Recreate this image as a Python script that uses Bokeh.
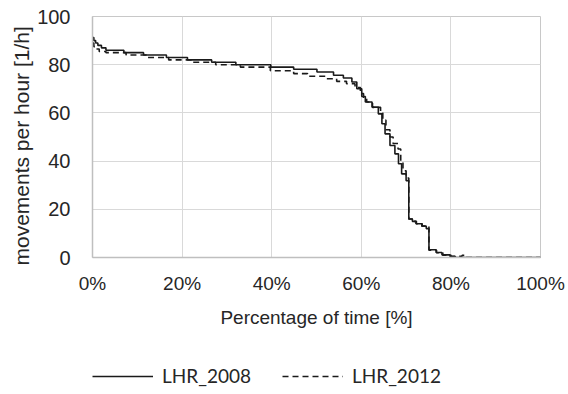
from bokeh.plotting import figure
from bokeh.layouts import column
from bokeh.models import (Range1d, FixedTicker, PrintfTickFormatter, Legend,
                          LegendItem, Title)
from bokeh.embed import file_html
from bokeh.resources import INLINE

# Duration curves: share of time (%) at which movements/hour is at least y
time_2008 = [0, 0.3, 0.7, 1.2, 2.0, 3.0, 7.0, 11.4, 16.5, 21.2, 26.6, 32.0, 39.8, 44.9,
             50.1, 53.8, 56.0, 57.9, 59.0, 60.1, 60.9, 62.4, 63.8, 64.6, 65.3, 66.4,
             67.5, 68.3, 69.0, 70.0, 70.6, 71.4, 72.2, 73.5, 74.5, 75.1, 76.7, 78.0,
             79.8, 81.0, 100]
moves_2008 = [91.3, 90, 89, 88, 87, 86, 85, 84, 83, 82, 81, 80, 79, 78.1,
              77.0, 75.6, 74.5, 72.8, 70.0, 66.8, 64.5, 62.4, 59.6, 55.5, 51.3, 46.5,
              43.0, 38.9, 34.7, 31.9, 16.0, 15.0, 14.0, 13.0, 12.0, 3.2, 2.1, 1.1,
              0.4, 0, 0]

time_2012 = [0, 0.3, 0.8, 1.5, 3.0, 7.5, 12.0, 17.0, 22.0, 27.5, 33.0, 39.7, 44.9,
             48.0, 52.2, 54.5, 56.7, 58.6, 59.8, 60.5, 61.2, 62.5, 64.3, 64.8, 65.5,
             66.4, 67.1, 68.2, 68.8, 69.3, 70.0, 70.6, 71.4, 72.3, 73.6, 75.1, 76.8,
             78.2, 80.0, 82.5, 83.3, 100]
moves_2012 = [89, 87.5, 86.5, 85.5, 85, 84, 83, 82, 81, 80, 79, 77.5, 76.3,
              75.2, 74.2, 73.1, 72.1, 70.5, 68.0, 66.0, 64.5, 62.3, 60.0, 57.0, 53.0,
              50.0, 47.3, 45.0, 40.0, 36.0, 33.0, 16.0, 15.0, 14.0, 13.0, 3.0, 2.0,
              1.0, 0.5, 0.9, 0, 0]

x_ticks = [0, 20, 40, 60, 80, 100]
y_ticks = [0, 20, 40, 60, 80, 100]
series_labels = ["LHR_2008", "LHR_2012"]
x_title = "Percentage of time [%]"
y_title = "movements per hour [1/h]"

TEXT = "#262626"
GRID = "#d9d9d9"
LINE = "#1a1a1a"
DASH = "6 4"

p = figure(width=568, height=340, output_backend="svg", toolbar_location=None,
           x_range=Range1d(0, 100), y_range=Range1d(0, 100),
           min_border_left=92, min_border_right=28, min_border_top=16,
           min_border_bottom=83)

p.step(time_2008, moves_2008, mode="after", line_color=LINE, line_width=1.6)
p.step(time_2012, moves_2012, mode="after", line_color=LINE, line_width=1.6,
       line_dash=DASH)

for ax in (p.xaxis[0], p.yaxis[0]):
    ax.axis_line_color = "#bfbfbf"
    ax.axis_line_width = 1.5
    ax.major_tick_line_color = None
    ax.minor_tick_line_color = None
    ax.major_label_text_font = "Liberation Sans"
    ax.major_label_text_color = TEXT
    ax.axis_label_text_font = "Liberation Sans"
    ax.axis_label_text_font_style = "normal"
    ax.axis_label_text_color = TEXT

p.xaxis.ticker = FixedTicker(ticks=x_ticks)
p.yaxis.ticker = FixedTicker(ticks=y_ticks)
p.xaxis.formatter = PrintfTickFormatter(format="%d%%")
p.xaxis.major_label_text_font_size = "19px"
p.yaxis.major_label_text_font_size = "20px"
p.xaxis.major_label_standoff = 9
p.yaxis.major_label_standoff = 16
p.xaxis.axis_label = x_title
p.xaxis.axis_label_text_font_size = "19px"
p.xaxis.axis_label_standoff = 10

# y title as a side title so it can sit a little below the frame centre
p.add_layout(Title(text=y_title, align="left", offset=-8, standoff=4,
                   text_font="Liberation Sans", text_font_size="21px",
                   text_font_style="normal", text_color=TEXT), "left")

p.xgrid.grid_line_color = GRID
p.ygrid.grid_line_color = GRID
p.outline_line_color = "#c8c8c8"
p.background_fill_color = "white"
p.border_fill_color = "white"

# Legend strip under the chart (its frame lines up with the chart's frame)
lg = figure(width=568, height=54, output_backend="svg", toolbar_location=None,
            x_range=Range1d(0, 1), y_range=Range1d(0, 1),
            min_border=0, outline_line_color=None)
lg.axis.visible = False
lg.grid.visible = False
# key renderers sit outside the visible range; only their legend glyphs show
k08 = lg.line([-5, -4], [-5, -4], line_color=LINE, line_width=1.6)
k12 = lg.line([-5, -4], [-5, -4], line_color=LINE, line_width=1.6, line_dash=DASH)

legend = Legend(items=[LegendItem(label=series_labels[0], renderers=[k08]),
                       LegendItem(label=series_labels[1], renderers=[k12])],
                orientation="horizontal", location=(0, 7),
                glyph_width=61, glyph_height=20, label_standoff=9, spacing=31,
                padding=0, margin=0, border_line_color=None,
                background_fill_alpha=0,
                label_text_font="Lato", label_text_font_size="19px",
                label_text_color=TEXT)
lg.add_layout(legend, "center")

open("out.html", "w").write(file_html(column(p, lg, spacing=0), INLINE))
